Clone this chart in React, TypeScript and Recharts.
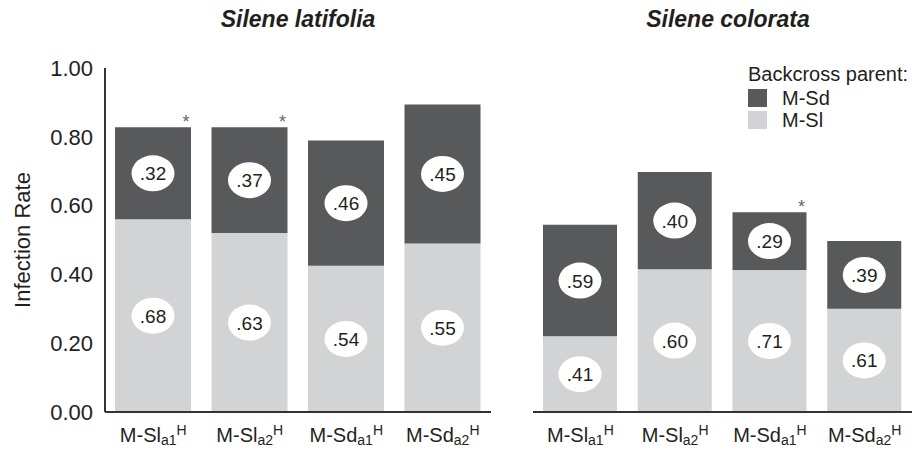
import { BarChart, Bar, XAxis, YAxis, LabelList } from 'recharts';

const FONT = '"Liberation Sans", Arial, Helvetica, sans-serif';
const INK = '#231f20';
const DARK = '#58595b';
const LIGHT = '#d1d3d4';

// genotype tick labels: base text, subscript, superscript
const tickBase = ['M-Sl', 'M-Sl', 'M-Sd', 'M-Sd'];
const tickSub = ['a1', 'a2', 'a1', 'a2'];
const tickSup = 'H';

// Silene latifolia
const latSl = [0.56, 0.52, 0.425, 0.49];
const latSd = [0.268, 0.308, 0.364, 0.404];
const latSlLabels = ['.68', '.63', '.54', '.55'];
const latSdLabels = ['.32', '.37', '.46', '.45'];
const latStars = ['*', '*', '', ''];

// Silene colorata
const colSl = [0.22, 0.415, 0.413, 0.3];
const colSd = [0.324, 0.283, 0.168, 0.197];
const colSlLabels = ['.41', '.60', '.71', '.61'];
const colSdLabels = ['.59', '.40', '.29', '.39'];
const colStars = ['', '', '*', ''];

const yTicks = [0, 0.2, 0.4, 0.6, 0.8, 1.0];

function buildRows(sl: number[], sd: number[], slLab: string[], sdLab: string[], stars: string[]) {
  return sl.map((v, i) => ({
    idx: i,
    sl: v,
    sd: sd[i],
    slLabel: slLab[i],
    sdLabel: sdLab[i],
    star: stars[i],
  }));
}

const latData = buildRows(latSl, latSd, latSlLabels, latSdLabels, latStars);
const colData = buildRows(colSl, colSd, colSlLabels, colSdLabels, colStars);

const Bubble = (props: any) => {
  const { x, y, width, height, value } = props;
  const cx = Number(x) + Number(width) / 2;
  const cy = Number(y) + Number(height) / 2;
  return (
    <g>
      <ellipse cx={cx} cy={cy} rx={21.5} ry={18} fill="#fff" />
      <text x={cx} y={cy + 7} textAnchor="middle" fontSize={19} fill={INK} fontFamily={FONT}>
        {value}
      </text>
    </g>
  );
};

const Star = (props: any) => {
  const { x, y, width, value } = props;
  if (!value) return null;
  return (
    <text x={Number(x) + Number(width) - 5} y={Number(y) + 1} textAnchor="middle" fontSize={18} fill="#666" fontFamily={FONT}>
      *
    </text>
  );
};

const GenotypeTick = (props: any) => {
  const { x, y, payload } = props;
  const i = payload.value as number;
  return (
    <text x={x} y={y + 22} textAnchor="middle" fill={INK} fontFamily={FONT} fontSize={20}>
      {tickBase[i]}
      <tspan fontSize={14} dy={3}>{tickSub[i]}</tspan>
      <tspan fontSize={14} dy={-10}>{tickSup}</tspan>
    </text>
  );
};

const YLabel = () => (
  <text
    x={30}
    y={240}
    transform="rotate(-90 30 240)"
    textAnchor="middle"
    fontSize={22}
    fill={INK}
    fontFamily={FONT}
  >
    Infection Rate
  </text>
);

function Panel({ data, width, showY }: { data: any[]; width: number; showY: boolean }) {
  return (
    <BarChart
      width={width}
      height={449}
      data={data}
      margin={{ top: 68, right: 0, bottom: 0, left: 0 }}
      barCategoryGap={0}
    >
      <XAxis
        dataKey="idx"
        axisLine={{ stroke: '#333', strokeWidth: 2 }}
        tickLine={false}
        tick={<GenotypeTick />}
        interval={0}
        height={37}
      />
      <YAxis
        hide={!showY}
        width={showY ? 105 : 0}
        domain={[0, 1]}
        ticks={yTicks}
        tickFormatter={(v: number) => v.toFixed(2)}
        axisLine={{ stroke: '#333', strokeWidth: 2 }}
        tickLine={false}
        tickMargin={6}
        tick={{ fill: INK, fontSize: 22, fontFamily: FONT }}
        label={showY ? <YLabel /> : undefined}
      />
      <Bar dataKey="sl" stackId="s" fill={LIGHT} barSize={showY ? 76 : 74} isAnimationActive={false}>
        <LabelList dataKey="slLabel" content={<Bubble />} />
      </Bar>
      <Bar dataKey="sd" stackId="s" fill={DARK} barSize={showY ? 76 : 74} isAnimationActive={false}>
        <LabelList dataKey="sdLabel" content={<Bubble />} />
        <LabelList dataKey="star" content={<Star />} />
      </Bar>
    </BarChart>
  );
}

export default function App() {
  const titleStyle: React.CSSProperties = {
    position: 'absolute',
    top: 6,
    fontFamily: FONT,
    fontWeight: 'bold',
    fontStyle: 'italic',
    fontSize: 23,
    color: INK,
    textAlign: 'center',
    width: 300,
  };
  return (
    <div style={{ position: 'absolute', left: 0, top: 0, width: 912, height: 449, background: '#fff' }}>
      <div style={{ position: 'absolute', left: 0, top: 0 }}>
        <Panel data={latData} width={491} showY={true} />
      </div>
      <div style={{ position: 'absolute', left: 533, top: 0 }}>
        <Panel data={colData} width={379} showY={false} />
      </div>
      <div style={{ ...titleStyle, left: 148 }}>Silene latifolia</div>
      <div style={{ ...titleStyle, left: 578 }}>Silene colorata</div>
      <div style={{ position: 'absolute', left: 748, top: 62, fontFamily: FONT, fontSize: 20, color: INK }}>
        <div style={{ lineHeight: '24px' }}>Backcross parent:</div>
        <div style={{ display: 'flex', alignItems: 'center', height: 22, marginTop: 1 }}>
          <span style={{ width: 19, height: 18, background: DARK, display: 'inline-block', marginRight: 15 }} />
          M-Sd
        </div>
        <div style={{ display: 'flex', alignItems: 'center', height: 22 }}>
          <span style={{ width: 19, height: 18, background: LIGHT, display: 'inline-block', marginRight: 15 }} />
          M-Sl
        </div>
      </div>
    </div>
  );
}
